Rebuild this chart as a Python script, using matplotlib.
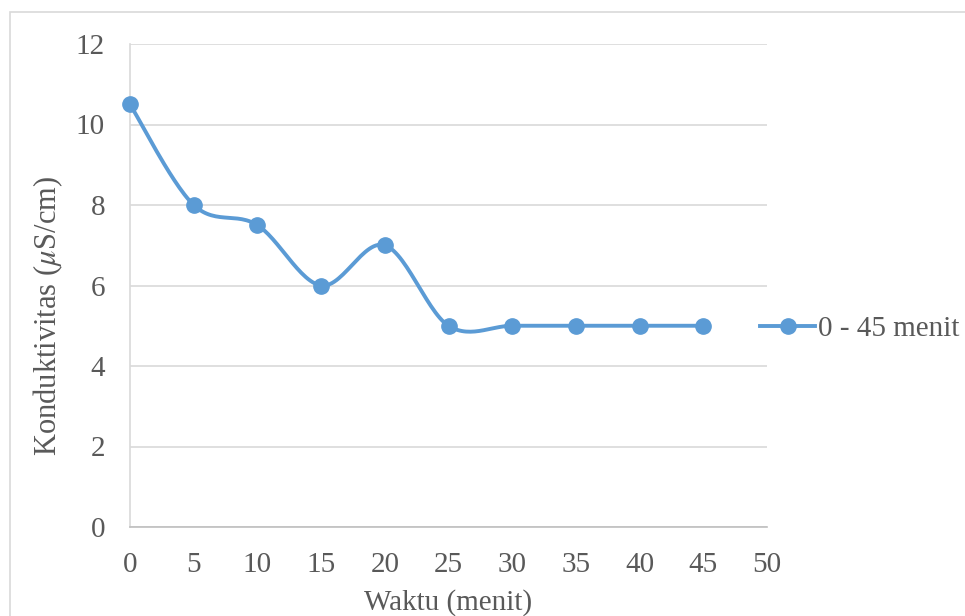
import matplotlib
matplotlib.use("Agg")
import matplotlib.pyplot as plt
import numpy as np
from matplotlib.lines import Line2D
from matplotlib.patches import Rectangle

plt.rcParams['font.family'] = ['Liberation Serif', 'DejaVu Serif']
plt.rcParams['mathtext.fontset'] = 'stix'

# data
waktu = [0, 5, 10, 15, 20, 25, 30, 35, 40, 45]
konduktivitas = [10.5, 8, 7.5, 6, 7, 5, 5, 5, 5, 5]
series_label = '0 - 45 menit'
x_ticks = [0, 5, 10, 15, 20, 25, 30, 35, 40, 45, 50]
y_ticks = [0, 2, 4, 6, 8, 10, 12]

BLUE = '#5B9BD5'
TXT = '#595959'


def smooth_curve(xs, ys, steps=30):
    """Excel-style smoothed line: cubic Bezier through every point."""
    px, py = np.asarray(xs, float), np.asarray(ys, float)
    n = len(px)
    out_x, out_y = [], []
    for i in range(n - 1):
        i0 = max(i - 1, 0)
        i3 = min(i + 2, n - 1)
        c1x = px[i] + (px[i + 1] - px[i0]) / 6
        c1y = py[i] + (py[i + 1] - py[i0]) / 6
        c2x = px[i + 1] - (px[i3] - px[i]) / 6
        c2y = py[i + 1] - (py[i3] - py[i]) / 6
        t = np.linspace(0, 1, steps)
        a, b, c, d = (1 - t) ** 3, 3 * t * (1 - t) ** 2, 3 * t ** 2 * (1 - t), t ** 3
        out_x.extend(a * px[i] + b * c1x + c * c2x + d * px[i + 1])
        out_y.extend(a * py[i] + b * c1y + c * c2y + d * py[i + 1])
    return out_x, out_y


fig = plt.figure(figsize=(9.65, 6.16), dpi=100)
ax = fig.add_axes([130 / 965, 1 - 527 / 616, (767 - 130) / 965, (527 - 44) / 616])

sx, sy = smooth_curve(waktu, konduktivitas)
ax.plot(sx, sy, color=BLUE, lw=2.8, solid_capstyle='round', zorder=3, clip_on=False)
ax.plot(waktu, konduktivitas, 'o', color=BLUE, ms=11, zorder=4, clip_on=False)

ax.set_xlim(0, 50)
ax.set_ylim(0, 12)
ax.set_xticks(x_ticks)
ax.set_yticks(y_ticks)
ax.grid(axis='y', color='#D9D9D9', lw=1.2)
ax.set_axisbelow(True)
for s in ['top', 'right']:
    ax.spines[s].set_visible(False)
ax.spines['left'].set_color('#D9D9D9')
ax.spines['left'].set_linewidth(1.2)
ax.spines['bottom'].set_color('#BFBFBF')
ax.spines['bottom'].set_linewidth(1.2)
ax.tick_params(length=0, labelsize=21, colors=TXT)
ax.tick_params(axis='y', pad=18)
ax.tick_params(axis='x', pad=18)

ax.set_xlabel('Waktu (menit)', fontsize=21, color=TXT)
ax.xaxis.set_label_coords(0.5, -(603 - 527) / 483, transform=ax.transAxes)
ax.xaxis.label.set_va('center')
ax.set_ylabel(r'Konduktivitas ($\mu$S/cm)', fontsize=22, color=TXT)
ax.yaxis.set_label_coords(-(130 - 48) / 637, (527 - 316) / 483)
ax.yaxis.label.set_va('center')

handle = Line2D([], [], color=BLUE, lw=2.8, marker='o', ms=11)
leg = fig.legend([handle], [series_label], loc='center left',
                 bbox_to_anchor=(760 / 965, 1 - 329 / 616), frameon=False,
                 fontsize=21, handlelength=1.9, handletextpad=0.1,
                 borderpad=0, borderaxespad=0)
for t in leg.get_texts():
    t.set_color(TXT)

fig.patches.append(Rectangle((10 / 965, -0.01), 1, 1 - 12 / 616 + 0.01,
                             transform=fig.transFigure, fill=False,
                             edgecolor='#D9D9D9', lw=1.2))

fig.savefig('out.png', dpi=100)
